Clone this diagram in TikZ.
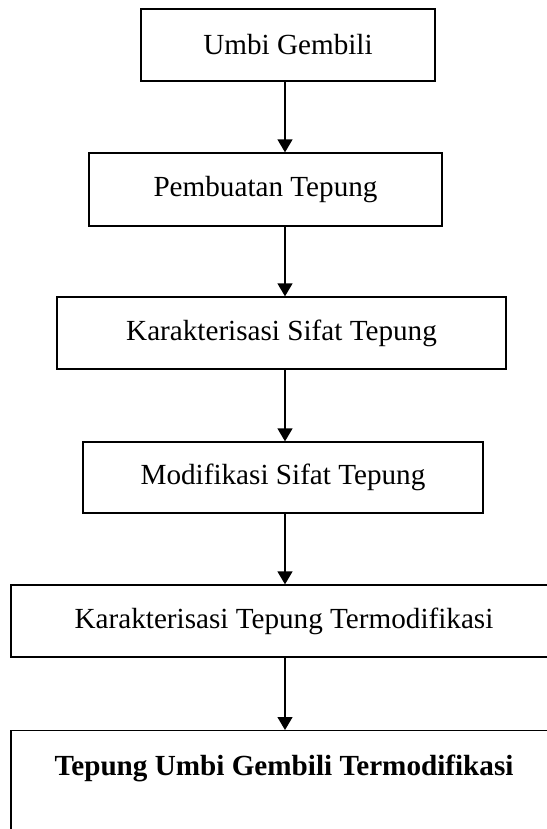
\documentclass[tikz,border=0pt]{standalone}
\usepackage{fontspec}
\setmainfont{Liberation Serif}
\usetikzlibrary{arrows.meta}
\begin{document}
\begin{tikzpicture}[x=0.02cm,y=-0.02cm,stepbox/.style={draw,line width=0.75pt,rectangle,inner sep=0pt,font=\fontsize{16.6}{20}\selectfont},flow/.style={line width=0.75pt,-{Triangle[length=0.26cm,width=0.3cm]}}]
\useasboundingbox(0,0)rectangle(547,829);
\clip(0,0)rectangle(547,829);
\node[stepbox,minimum width=5.88cm,minimum height=1.44cm](umbi)at(288,45){Umbi Gembili};
\node[stepbox,minimum width=7.06cm,minimum height=1.46cm](buat)at(265.5,189.5){Pembuatan Tepung};
\node[stepbox,minimum width=8.98cm,minimum height=1.44cm](sifat)at(281.5,333){Karakterisasi Sifat Tepung};
\node[stepbox,minimum width=8.00cm,minimum height=1.42cm](modif)at(283,477.5){Modifikasi Sifat Tepung};
\node[stepbox,minimum width=10.92cm,minimum height=1.44cm](karak)at(284,621){Karakterisasi Tepung Termodifikasi};
\node[stepbox,minimum width=10.92cm,anchor=north,inner ysep=0.4cm,text height=0.5cm,text depth=2cm,font=\fontsize{16.6}{20}\selectfont\bfseries](hasil)at(284,730){Tepung Umbi Gembili Termodifikasi};
\coordinate(spine)at(285,0);
\draw[flow](umbi.south-|spine)--(buat.north-|spine);
\draw[flow](buat.south-|spine)--(sifat.north-|spine);
\draw[flow](sifat.south-|spine)--(modif.north-|spine);
\draw[flow](modif.south-|spine)--(karak.north-|spine);
\draw[flow](karak.south-|spine)--(hasil.north-|spine);
\end{tikzpicture}
\end{document}
